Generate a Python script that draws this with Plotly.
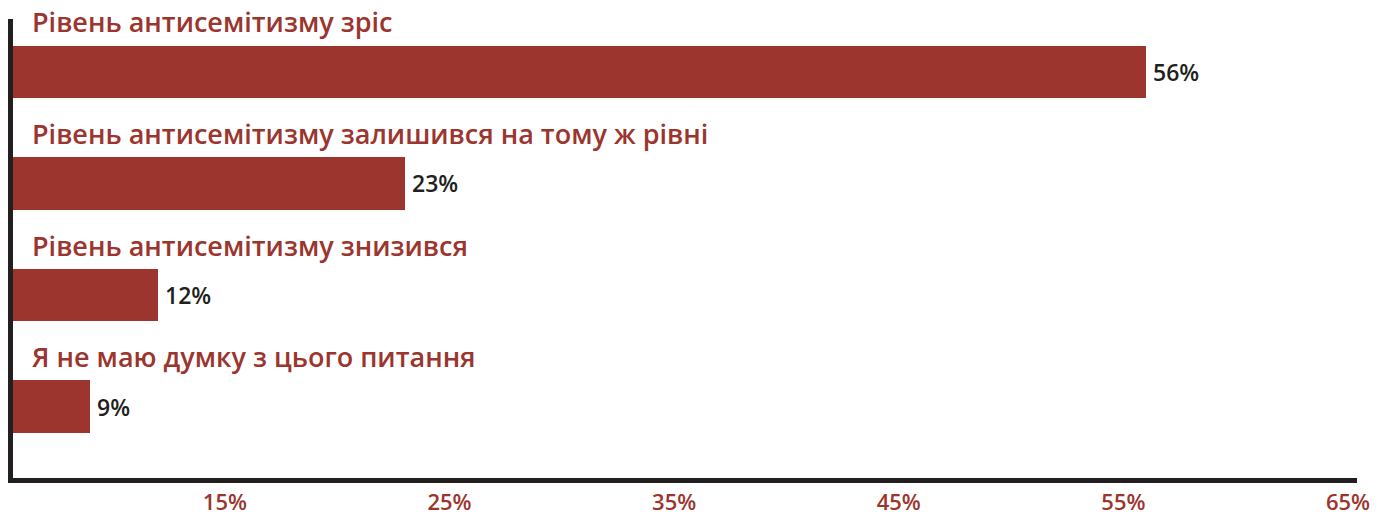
import plotly.graph_objects as go

categories = [
    "Рівень антисемітизму зріс",
    "Рівень антисемітизму залишився на тому ж рівні",
    "Рівень антисемітизму знизився",
    "Я не маю думку з цього питання",
]
values = [56, 23, 12, 9]
value_labels = ["56%", "23%", "12%", "9%"]
tick_values = [15, 25, 35, 45, 55, 65]
tick_labels = ["15%", "25%", "35%", "45%", "55%", "65%"]

RED = "#9b352e"
DARK = "#231f20"
FONT = "Open Sans"

fig = go.Figure()
fig.add_trace(go.Bar(
    x=values,
    y=categories,
    orientation="h",
    marker=dict(color=RED, line=dict(width=0)),
    width=0.47,
    hoverinfo="skip",
))

for c, v, lab in zip(categories, values, value_labels):
    fig.add_annotation(
        x=(30 - 12.5) / 1344.5, xref="paper", xanchor="left",
        y=c, yref="y", yanchor="middle", yshift=50,
        text=c, showarrow=False,
        font=dict(family=FONT, size=27, color=RED, weight=600),
    )
    fig.add_annotation(
        x=v, xref="x", xanchor="left", xshift=5,
        y=c, yref="y", yanchor="middle",
        text=lab, showarrow=False,
        font=dict(family=FONT, size=23, color=DARK, weight=600),
    )

fig.update_layout(
    width=1387, height=516,
    margin=dict(l=12.5, r=30, t=19, b=37.5, autoexpand=False),
    paper_bgcolor="white", plot_bgcolor="white",
    showlegend=False,
    bargap=0,
    xaxis=dict(
        range=[5.565, 65.4],
        tickvals=tick_values, ticktext=tick_labels,
        showgrid=False, zeroline=False,
        showline=True, linecolor=DARK, linewidth=5,
        ticks="", ticklabelstandoff=1, automargin=False,
        tickfont=dict(family=FONT, size=22, color=RED, weight=600),
    ),
    yaxis=dict(
        type="category",
        categoryorder="array", categoryarray=categories,
        range=[3.64, -0.474],
        showticklabels=False, showgrid=False, zeroline=False,
        showline=True, linecolor=DARK, linewidth=5,
        ticks="", automargin=False,
    ),
)

fig.write_html(
    "out.html",
    config={"displayModeBar": False},
    post_script="document.body.style.margin='0';document.body.style.overflow='hidden';",
)
